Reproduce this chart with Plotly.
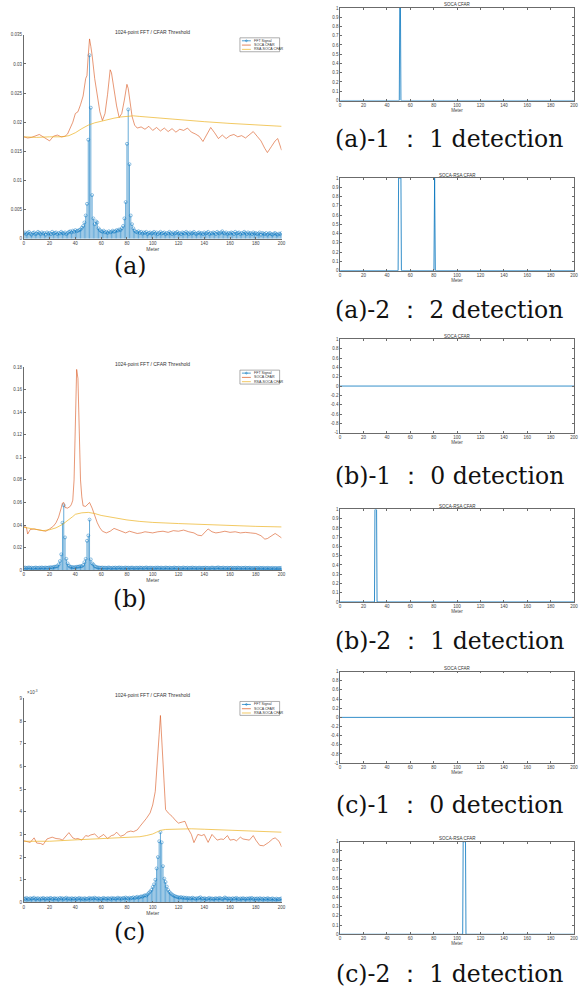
import plotly.graph_objects as go

# ---------------- data (amplitudes in units of 1e-3) ----------------
meters = list(range(0, 201))

fft_a = [0.9,1.1,0.8,1.0,1.2,0.9,0.7,1.0,1.1,0.8,0.9,1.2,1.0,0.8,1.1,0.9,1.0,0.7,1.1,0.9,
         1.0,0.8,1.2,0.9,1.0,1.1,0.8,1.0,0.9,1.2,1.0,0.9,1.1,0.8,1.0,1.2,1.3,1.1,1.4,1.2,
         1.5,1.3,1.4,1.5,1.6,1.9,2.2,2.8,4.0,6.0,17.0,31.5,22.5,7.5,3.5,2.5,3.0,2.8,1.8,1.5,
         1.3,1.2,1.4,1.1,1.2,1.0,1.3,1.1,1.2,1.4,1.2,1.3,1.5,1.4,1.6,1.5,1.8,2.2,3.5,6.3,
         16.3,22.2,12.8,4.0,2.5,1.8,1.4,1.2,1.1,1.3,1.0,1.2,0.9,1.1,1.0,1.2,0.8,1.0,1.1,0.9,
         1.0,1.2,0.9,1.1,0.8,1.0,1.2,0.9,1.0,1.1,0.8,1.0,0.9,1.2,1.0,0.8,1.1,0.9,1.0,1.2,
         0.9,1.0,0.8,1.1,1.0,0.9,1.2,1.0,0.8,1.1,0.9,1.0,1.2,0.9,0.8,1.0,1.1,0.9,1.0,0.8,
         1.1,0.9,1.0,1.2,0.8,1.0,0.9,1.1,1.0,0.8,1.2,1.0,0.9,1.1,1.3,1.0,0.9,1.1,0.8,1.0,
         0.9,1.1,1.0,0.8,1.2,0.9,1.0,1.1,0.8,1.0,0.9,1.2,1.0,0.8,1.1,0.9,1.0,0.8,1.1,0.9,
         1.0,0.8,0.9,1.1,0.7,1.0,0.9,0.8,1.0,0.7,0.9,1.0,0.8,0.7,0.9,1.0,0.8,0.7,0.9,0.8,1.0]

fft_b = [2.0,2.3,1.8,2.1,2.4,1.9,2.2,1.7,2.0,2.3,2.1,1.8,2.2,2.0,2.4,1.9,2.1,2.3,2.0,2.2,
         2.4,2.6,2.3,2.8,3.0,3.2,3.5,5.0,8.0,14.0,42.0,57.5,29.0,10.0,6.0,4.0,3.0,2.8,2.6,2.5,
         2.7,2.9,3.0,3.2,3.5,3.5,4.5,7.0,10.0,26.0,30.7,44.8,9.5,6.0,5.0,3.5,3.0,2.5,2.3,2.2,
         2.1,2.3,2.0,2.2,1.9,2.1,2.4,2.0,1.8,2.2,2.0,2.3,1.9,2.1,2.4,2.0,2.2,1.8,2.1,2.3,
         2.0,2.2,1.9,2.1,2.3,2.0,1.8,2.2,2.1,1.9,2.3,2.0,2.2,1.8,2.1,2.4,2.0,1.9,2.2,2.0,
         2.1,1.8,2.2,2.0,2.3,1.9,2.1,2.2,1.8,2.0,2.3,2.1,1.9,2.2,2.0,1.8,2.1,2.3,2.0,1.9,
         2.2,2.0,1.8,2.1,2.3,1.9,2.0,2.2,1.8,2.1,2.0,2.3,1.9,2.1,2.0,1.8,2.2,2.0,1.9,2.1,
         2.0,2.2,1.9,2.1,1.8,2.0,2.3,2.1,1.9,2.0,2.2,2.4,2.0,1.9,2.1,2.2,1.8,2.0,2.1,1.9,
         2.0,2.2,1.8,2.1,2.0,1.9,2.2,2.0,1.8,2.1,1.9,2.0,2.2,1.8,2.0,2.1,1.9,1.7,2.0,1.8,
         1.9,2.0,1.7,2.1,1.8,1.9,2.0,1.7,1.8,2.0,1.9,1.7,1.8,2.0,1.6,1.9,1.8,1.7,1.9,1.8,2.0]

fft_c = [0.18,0.15,0.20,0.17,0.14,0.19,0.16,0.18,0.21,0.15,0.17,0.19,0.14,0.18,0.16,0.20,0.17,0.15,0.19,0.16,
         0.18,0.20,0.15,0.17,0.19,0.16,0.18,0.14,0.20,0.17,0.19,0.15,0.18,0.21,0.16,0.18,0.15,0.19,0.17,0.16,
         0.19,0.15,0.17,0.20,0.16,0.18,0.14,0.19,0.17,0.15,0.18,0.20,0.16,0.19,0.17,0.21,0.18,0.16,0.19,0.17,
         0.15,0.18,0.20,0.17,0.16,0.19,0.18,0.15,0.20,0.17,0.19,0.16,0.18,0.21,0.17,0.19,0.16,0.20,0.18,0.22,
         0.19,0.17,0.21,0.18,0.20,0.23,0.19,0.22,0.25,0.21,0.24,0.27,0.25,0.29,0.32,0.30,0.36,0.42,0.48,0.55,
         0.68,0.80,1.00,1.50,2.00,2.70,3.10,2.65,1.60,1.05,0.90,0.70,0.55,0.46,0.40,0.35,0.31,0.28,0.26,0.24,
         0.23,0.21,0.24,0.20,0.22,0.19,0.21,0.18,0.20,0.17,0.19,0.21,0.18,0.16,0.19,0.17,0.20,0.23,0.18,0.16,
         0.19,0.17,0.15,0.18,0.20,0.16,0.18,0.15,0.17,0.19,0.16,0.18,0.20,0.17,0.15,0.18,0.22,0.19,0.16,0.18,
         0.17,0.15,0.19,0.16,0.18,0.20,0.17,0.14,0.18,0.16,0.19,0.17,0.15,0.18,0.16,0.19,0.17,0.20,0.15,0.17,
         0.16,0.18,0.15,0.19,0.17,0.14,0.18,0.16,0.15,0.19,0.17,0.14,0.16,0.18,0.15,0.13,0.17,0.15,0.14,0.16,0.18]

soca_a_x = [0,3,6,9,12,15,18,20,23,26,29,32,34,36,38,40,42,44,46,48,49,50,51,52,53,55,57,59,61,63,
            65,67,68,70,72,74,76,78,80,81,82,84,86,88,91,94,97,100,103,106,109,112,115,118,121,124,
            127,130,133,136,139,142,145,148,151,154,157,160,163,166,169,172,175,178,181,184,187,189,
            192,195,197,200]
soca_a_y = [17.5,17.3,17.4,17.6,17.9,17.5,17.1,16.8,17.6,17.8,17.5,17.6,18.0,19.0,20.0,21.5,21.8,23.0,
            24.5,27.5,28.0,31.5,34.3,33.0,31.5,27.5,24.5,21.8,20.3,21.5,24.8,29.0,28.5,25.5,22.8,20.8,
            21.5,23.8,26.5,25.8,24.0,21.0,19.5,19.0,19.2,18.8,19.3,18.6,19.1,18.5,19.0,18.4,18.9,18.3,
            18.8,18.6,19.0,18.3,18.0,17.6,16.7,17.8,19.1,18.2,17.2,17.8,17.2,17.7,17.9,17.5,17.7,17.3,
            17.8,18.4,17.6,16.8,15.5,14.8,15.8,16.8,17.2,15.2]
rsa_a_x = [0,10,20,30,35,40,45,50,55,60,65,70,75,80,85,90,100,120,140,160,180,200]
rsa_a_y = [17.5,17.4,17.5,17.5,17.7,18.2,18.9,19.5,19.9,20.2,20.5,20.7,20.9,21.0,21.1,21.0,20.8,
           20.5,20.1,19.8,19.6,19.3]

soca_b_x = [0,2,3,5,8,10,13,15,17,20,23,25,27,29,30,31,32,34,36,37,38,39,40,41,42,43,44,45,46,48,
            50,51,53,55,57,59,61,64,67,70,73,76,79,82,85,88,91,94,97,100,104,108,112,116,120,124,128,
            132,135,138,140,143,146,149,152,156,160,164,168,172,176,180,184,187,189,192,195,197,200]
soca_b_y = [38.5,38.0,32.0,36.0,36.5,36.0,35.5,35.0,34.5,36.5,39.0,42.0,47.0,55.0,59.5,60.0,55.5,55.0,
            56.5,58.5,62.0,80.0,130.0,178.0,170.0,120.0,80.0,65.0,57.0,56.5,59.0,60.0,55.0,48.0,42.0,
            37.5,34.5,33.0,34.5,37.0,35.5,34.0,33.0,34.5,33.5,32.5,33.0,34.0,33.5,33.0,34.0,34.5,33.5,
            35.0,34.5,35.5,34.0,33.0,31.0,30.5,33.0,36.5,34.0,33.0,33.5,34.5,33.5,34.0,33.0,33.5,33.0,
            32.5,30.5,27.5,28.0,30.5,32.5,31.0,28.5]
rsa_b_x = [0,5,10,15,20,25,30,35,38,40,45,50,55,60,70,80,90,100,120,140,160,180,200]
rsa_b_y = [38.0,37.0,36.0,35.0,35.8,37.5,40.5,44.5,47.5,49.5,50.8,51.2,50.2,48.5,46.2,44.5,43.2,42.3,
           41.3,40.3,39.4,38.8,38.3]

soca_c_x = [0,3,5,8,10,13,15,18,20,22,25,28,30,33,35,38,40,42,45,48,50,52,55,58,60,62,65,68,70,72,
            75,78,80,83,85,88,90,93,95,98,100,102,103,104,105,106,107,108,109,110,112,115,118,120,123,
            125,127,130,132,135,138,140,143,146,150,153,155,158,160,163,165,168,170,173,175,178,180,
            183,186,190,193,195,198,200]
soca_c_y = [2.72,2.68,2.65,2.85,2.62,2.60,2.55,2.80,2.85,2.88,2.82,2.80,2.75,2.95,3.08,2.85,2.80,2.82,
            2.75,2.95,2.92,2.98,3.02,2.85,2.92,3.00,2.82,2.95,2.98,3.10,2.92,2.98,3.10,3.15,3.12,3.20,
            3.35,3.55,3.70,3.95,4.30,4.90,5.60,6.50,7.40,8.25,7.20,5.60,4.60,4.10,3.95,3.80,3.60,3.50,
            3.55,3.58,3.30,3.00,2.64,3.00,2.95,3.00,2.65,3.00,2.75,2.80,2.78,2.95,2.75,2.78,2.72,2.88,
            2.80,2.78,2.75,2.95,2.75,2.52,2.50,2.65,2.80,2.85,2.70,2.45]
rsa_c_x = [0,20,40,60,80,90,95,100,103,106,110,120,130,140,150,160,180,200]
rsa_c_y = [2.70,2.70,2.76,2.81,2.86,2.90,2.95,3.02,3.10,3.18,3.22,3.25,3.25,3.23,3.21,3.18,3.13,3.10]

# detection outputs (0 / 1)
det_a1_x = [0, 50.6, 51.0, 51.6, 52.0, 200]
det_a1_y = [0, 0, 1, 1, 0, 0]
det_a2_x = [0, 49.6, 50.0, 52.0, 52.4, 80.2, 80.8, 81.4, 200]
det_a2_y = [0, 0, 1, 1, 0, 0, 1, 0, 0]
det_b1_x = [0, 200]
det_b1_y = [0, 0]
det_b2_x = [0, 29.4, 29.8, 31.2, 31.6, 200]
det_b2_y = [0, 0, 1, 1, 0, 0]
det_c1_x = [0, 200]
det_c1_y = [0, 0]
det_c2_x = [0, 104.8, 105.2, 107.2, 107.6, 200]
det_c2_y = [0, 0, 1, 1, 0, 0]

legend_names = ["FFT Signal", "SOCA CFAR", "RSA-SOCA CFAR"]
left_captions = ["(a)", "(b)", "(c)"]
right_titles = ["SOCA CFAR", "SOCA-RSA CFAR"] * 3
right_captions = ["(a)-1 ： 1 detection", "(a)-2 ： 2 detection",
                  "(b)-1 ： 0 detection", "(b)-2 ： 1 detection",
                  "(c)-1 ： 0 detection", "(c)-2 ： 1 detection"]
x_ticks = list(range(0, 201, 20))

# ---------------- figure ----------------
W, H = 588, 992
def fx(p): return p / W
def fy(p): return 1 - p / H

BLUE, ORANGE, YELLOW = "#0072BD", "#D95319", "#EDB120"
TICKFONT = dict(family="Liberation Sans, Arial", size=4.5, color="#444")
AXCOL = "#6b6b6b"
CAPFONT = dict(family="DejaVu Serif", size=23.5, color="#111")

fig = go.Figure()
layout = {}
annotations = []
shapes = []

left = [
    dict(fft=fft_a, sx=soca_a_x, sy=soca_a_y, rx=rsa_a_x, ry=rsa_a_y, top=33, bot=238,
         ymax=0.035, dt=0.005, cap=265, exp=False),
    dict(fft=fft_b, sx=soca_b_x, sy=soca_b_y, rx=rsa_b_x, ry=rsa_b_y, top=367, bot=571,
         ymax=0.18, dt=0.02, cap=600, exp=False),
    dict(fft=fft_c, sx=soca_c_x, sy=soca_c_y, rx=rsa_c_x, ry=rsa_c_y, top=700, bot=905,
         ymax=0.009, dt=0.001, cap=935, exp=True),
]
LX0, LX1 = 23, 283

for i, p in enumerate(left):
    n = i + 1
    xa = "x" if n == 1 else f"x{n}"
    ya = "y" if n == 1 else f"y{n}"
    sx, sy, ss = [], [], []
    for m, v in zip(meters, p["fft"]):
        sx += [m, m, None]
        sy += [0, v * 1e-3, None]
        ss += [0, 3, 0]
    fig.add_trace(go.Scatter(x=sx, y=sy, mode="lines+markers", name=legend_names[0],
                             showlegend=False, line=dict(color=BLUE, width=0.6),
                             marker=dict(symbol="circle-open", size=ss, color=BLUE,
                                         line=dict(width=0.6, color=BLUE)),
                             xaxis=xa, yaxis=ya))
    fig.add_trace(go.Scatter(x=p["sx"], y=[v * 1e-3 for v in p["sy"]], mode="lines",
                             name=legend_names[1], showlegend=False,
                             line=dict(color=ORANGE, width=0.6), xaxis=xa, yaxis=ya))
    fig.add_trace(go.Scatter(x=p["rx"], y=[v * 1e-3 for v in p["ry"]], mode="lines",
                             name=legend_names[2], showlegend=False,
                             line=dict(color=YELLOW, width=0.7), xaxis=xa, yaxis=ya))
    nt = int(round(p["ymax"] / p["dt"]))
    yt = [k * p["dt"] for k in range(nt + 1)]
    if p["exp"]:
        ytext = [str(k) for k in range(nt + 1)]
    else:
        ytext = [("%g" % round(v, 4)) for v in yt]
    kx = "xaxis" if n == 1 else f"xaxis{n}"
    ky = "yaxis" if n == 1 else f"yaxis{n}"
    layout[kx] = dict(domain=[fx(LX0), fx(LX1)], range=[0, 200], anchor=ya,
                      tickvals=x_ticks, ticks="inside", ticklen=2, tickcolor=AXCOL,
                      showline=True, linecolor=AXCOL, linewidth=0.7, showgrid=False,
                      zeroline=False, tickfont=TICKFONT,
                      title=dict(text="Meter", font=dict(family="Liberation Sans", size=5, color="#444"),
                                 standoff=1))
    layout[ky] = dict(domain=[fy(p["bot"]), fy(p["top"])], range=[0, p["ymax"]], anchor=xa,
                      tickvals=yt, ticktext=ytext, ticks="inside", ticklen=2, tickcolor=AXCOL,
                      showline=True, linecolor=AXCOL, linewidth=0.7, showgrid=False,
                      zeroline=False, tickfont=TICKFONT)

    # compact MATLAB-style legend box
    t = p["top"] + 3
    shapes.append(dict(type="rect", xref="paper", yref="paper", x0=fx(241), x1=fx(281),
                       y0=fy(t + 14), y1=fy(t), line=dict(color="#777", width=0.6),
                       fillcolor="white", layer="above"))
    for k, col in enumerate([BLUE, ORANGE, YELLOW]):
        yy = t + 3 + k * 4.3
        shapes.append(dict(type="line", xref="paper", yref="paper", x0=fx(243), x1=fx(252),
                           y0=fy(yy), y1=fy(yy), line=dict(color=col, width=0.7), layer="above"))
        annotations.append(dict(text=legend_names[k], x=fx(253.5), y=fy(yy), xref="paper",
                                yref="paper", showarrow=False, xanchor="left", yanchor="middle",
                                font=dict(family="Liberation Sans", size=3.6, color="#333")))
    shapes.append(dict(type="circle", xref="paper", yref="paper", x0=fx(246.6), x1=fx(248.4),
                       y0=fy(t + 3.9), y1=fy(t + 2.1), line=dict(color=BLUE, width=0.5),
                       layer="above"))

    annotations.append(dict(text="1024-point FFT / CFAR Threshold", x=fx((LX0 + LX1) / 2),
                            y=fy(p["top"] - 3), xref="paper", yref="paper", showarrow=False,
                            xanchor="center", yanchor="middle",
                            font=dict(family="Liberation Sans", size=5, color="#333")))
    if p["exp"]:
        annotations.append(dict(text="×10<sup>-3</sup>", x=fx(LX0 + 1), y=fy(p["top"] - 1),
                                xref="paper", yref="paper", showarrow=False,
                                xanchor="left", yanchor="bottom",
                                font=dict(family="Liberation Sans", size=4.5, color="#444")))
    annotations.append(dict(text=left_captions[i], x=fx(130), y=fy(p["cap"]), xref="paper",
                            yref="paper", showarrow=False, xanchor="center", yanchor="middle",
                            font=CAPFONT))

right = [
    dict(x=det_a1_x, y=det_a1_y, top=6, bot=99, yr=[0, 1], dt=0.1, cap=138),
    dict(x=det_a2_x, y=det_a2_y, top=177, bot=270, yr=[0, 1], dt=0.1, cap=310),
    dict(x=det_b1_x, y=det_b1_y, top=339, bot=433, yr=[-1, 1], dt=0.2, cap=476),
    dict(x=det_b2_x, y=det_b2_y, top=510, bot=603, yr=[0, 1], dt=0.1, cap=642),
    dict(x=det_c1_x, y=det_c1_y, top=673, bot=765, yr=[-1, 1], dt=0.2, cap=807),
    dict(x=det_c2_x, y=det_c2_y, top=844, bot=937, yr=[0, 1], dt=0.1, cap=977),
]
RX0, RX1 = 342, 578
for j, p in enumerate(right):
    n = j + 4
    xa, ya = f"x{n}", f"y{n}"
    fig.add_trace(go.Scatter(x=p["x"], y=p["y"], mode="lines", showlegend=False,
                             line=dict(color=BLUE, width=0.8), xaxis=xa, yaxis=ya))
    nt = int(round((p["yr"][1] - p["yr"][0]) / p["dt"]))
    yt = [round(p["yr"][0] + k * p["dt"], 4) for k in range(nt + 1)]
    layout[f"xaxis{n}"] = dict(domain=[fx(RX0), fx(RX1)], range=[0, 200], anchor=ya,
                               tickvals=x_ticks, ticks="inside", ticklen=2, tickcolor=AXCOL,
                               showline=True, mirror="ticks", linecolor=AXCOL, linewidth=0.6,
                               showgrid=False, zeroline=False, tickfont=TICKFONT,
                               title=dict(text="Meter",
                                          font=dict(family="Liberation Sans", size=4.5, color="#444"),
                                          standoff=1))
    layout[f"yaxis{n}"] = dict(domain=[fy(p["bot"]), fy(p["top"])], range=p["yr"], anchor=xa,
                               tickvals=yt, ticktext=["%g" % v for v in yt], ticks="inside",
                               ticklen=2, tickcolor=AXCOL, showline=True, mirror="ticks",
                               linecolor=AXCOL, linewidth=0.6, showgrid=False, zeroline=False,
                               tickfont=TICKFONT)
    annotations.append(dict(text=right_titles[j], x=fx((RX0 + RX1) / 2), y=fy(p["top"] - 3),
                            xref="paper", yref="paper", showarrow=False, xanchor="center",
                            yanchor="middle",
                            font=dict(family="Liberation Sans", size=4.5, color="#333")))
    annotations.append(dict(text=right_captions[j], x=fx(452), y=fy(p["cap"]), xref="paper",
                            yref="paper", showarrow=False, xanchor="center", yanchor="middle",
                            font=CAPFONT))

fig.update_layout(width=W, height=H, margin=dict(l=0, r=0, t=0, b=0),
                  paper_bgcolor="white", plot_bgcolor="white", showlegend=False,
                  annotations=annotations, shapes=shapes, **layout)

fig.write_html("out.html", config={"displayModeBar": False},
               post_script="document.body.style.margin='0';document.body.style.overflow='hidden';")
